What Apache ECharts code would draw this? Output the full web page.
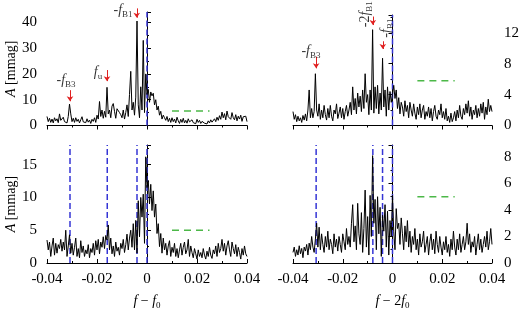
<!DOCTYPE html>
<html>
<head>
<meta charset="utf-8">
<script src="https://cdn.jsdelivr.net/npm/echarts@6/dist/echarts.min.js"></script>
<style>
  html, body { margin: 0; padding: 0; background: #fff; }
  #chart { width: 520px; height: 312px; }
</style>
</head>
<body>
<div id="chart"></div>
<script>
// frequency grid: -0.04 .. 0.04 in steps of 0.0005
const freqStart = -0.04
const freqStep = 0.0005

// amplitude around f0, upper panel (mmag)
const ampF0Top = [
  3.5, 1.5, 2.8, 1.2, 2.5, 1.0, 3.0, 1.8, 2.6, 1.1,
  4.5, 2.0, 1.3, 3.2, 1.5, 2.2, 1.0, 3.5, 8.3, 4.5,
  1.5, 2.8, 1.2, 3.0, 1.6, 2.4, 1.0, 2.2, 3.4, 1.4,
  2.0, 1.1, 2.6, 1.3, 2.1, 0.8, 2.4, 1.6, 3.0, 1.2,
  4.0, 2.5, 9.3, 3.5, 6.0, 2.8, 5.5, 3.2, 14.8, 4.5,
  6.0, 3.0, 7.5, 8.5, 5.5, 2.8, 6.5, 7.0, 5.0, 4.2,
  3.0, 6.0, 2.5, 5.0, 8.0, 3.5, 12.0, 21.0, 6.0, 9.0,
  4.0, 11.0, 40.5, 8.0, 3.0, 15.0, 6.0, 33.0, 5.0, 20.0,
  12.0, 14.0, 9.0, 13.0, 11.5, 12.5, 8.0, 10.0, 6.0, 7.5,
  4.0, 5.5, 2.5, 4.0, 3.0, 2.0, 3.5, 1.5, 2.8, 1.2,
  3.0, 1.5, 2.5, 1.0, 3.2, 1.8, 0.8, 2.4, 1.2, 2.8,
  1.0, 2.0, 0.9, 2.6, 1.4, 0.8, 2.2, 1.1, 1.8, 0.7,
  2.4, 1.2, 2.0, 0.8, 1.6, 2.2, 0.9, 1.5, 0.6, 1.8,
  1.0, 2.2, 1.3, 0.8, 2.6, 1.5, 3.2, 2.0, 3.8, 2.4,
  5.2, 3.0, 4.6, 2.2, 5.6, 3.4, 4.0, 2.4, 5.0, 3.0,
  2.2, 4.2, 1.8, 3.6, 2.5, 4.0, 1.6, 3.4, 2.8, 3.6,
  1.5
]
// amplitude around f0, lower panel (prewhitened)
const ampF0Bottom = [
  3.5, 2.0, 3.2, 1.0, 2.6, 3.8, 1.2, 3.0, 1.5, 2.8,
  2.2, 3.6, 1.8, 3.2, 2.0, 5.0, 1.0, 2.6, 4.3, 1.5,
  3.0, 1.2, 2.4, 3.8, 1.0, 2.2, 0.8, 3.4, 1.6, 2.6,
  1.0, 2.0, 1.4, 2.8, 0.8, 2.2, 1.6, 3.0, 1.2, 3.4,
  2.0, 3.6, 1.4, 3.2, 2.4, 4.0, 2.2, 4.2, 3.5, 5.8,
  2.0, 3.8, 1.4, 2.6, 1.0, 3.2, 1.8, 2.4, 1.2, 3.0,
  2.2, 3.6, 1.6, 2.8, 4.4, 2.0, 3.8, 5.0, 2.4, 6.0,
  2.0, 6.5, 1.5, 9.5, 4.0, 10.0, 7.0, 10.5, 3.0, 16.2,
  11.5, 12.6, 9.0, 12.0, 8.0, 11.0, 7.0, 9.0, 4.5, 6.0,
  2.5, 4.5, 1.5, 3.8, 2.0, 3.0, 1.2, 2.6, 3.4, 1.0,
  2.4, 1.6, 3.0, 1.0, 2.2, 0.8, 2.0, 3.0, 1.2, 2.4,
  3.2, 1.4, 2.0, 3.6, 1.0, 2.6, 1.6, 0.8, 2.2, 1.4,
  0.6, 2.0, 1.0, 1.6, 0.8, 2.2, 1.2, 0.6, 1.8, 1.0,
  2.4, 1.2, 0.7, 2.0, 1.4, 2.6, 1.0, 3.0, 1.6, 2.2,
  3.6, 1.8, 3.0, 1.2, 2.6, 3.4, 2.0, 1.0, 3.2, 2.2,
  1.4, 2.8, 1.0, 2.4, 1.6, 0.6, 2.2, 1.2, 2.6, 1.4,
  1.0
]
// amplitude around 2f0, upper panel
const amp2F0Top = [
  1.8, 0.8, 1.4, 0.5, 1.2, 0.6, 1.0, 0.4, 1.3, 0.7,
  1.5, 0.6, 2.0, 4.6, 1.0, 2.2, 1.0, 1.8, 6.7, 2.0,
  1.2, 2.8, 0.8, 2.0, 1.0, 2.6, 1.4, 0.7, 2.2, 1.0,
  2.6, 1.2, 0.6, 2.0, 1.5, 2.8, 0.9, 1.6, 2.4, 1.0,
  2.2, 0.8, 1.8, 2.6, 1.2, 2.0, 3.0, 1.4, 5.0, 2.0,
  3.5, 1.5, 4.2, 2.4, 3.8, 1.8, 4.6, 2.2, 6.7, 3.0,
  4.0, 1.4, 4.6, 2.0, 12.4, 1.6, 5.0, 2.2, 5.2, 1.5,
  4.2, 2.0, 8.7, 2.4, 4.6, 1.2, 5.0, 2.0, 4.4, 3.0,
  4.0, 5.2, 3.5, 4.6, 2.2, 3.6, 1.5, 3.0, 2.4, 1.2,
  3.2, 1.8, 2.6, 1.0, 3.0, 2.0, 1.2, 2.8, 1.6, 0.8,
  2.4, 1.4, 2.8, 1.0, 2.0, 2.6, 0.8, 1.8, 1.2, 2.4,
  1.0, 2.2, 0.6, 1.8, 2.6, 1.2, 0.8, 2.0, 1.4, 2.8,
  1.0, 1.8, 0.8, 2.2, 0.6, 1.2, 0.4, 1.6, 0.5, 1.0,
  1.8, 0.6, 2.0, 1.0, 2.6, 1.2, 0.8, 2.2, 1.4, 2.8,
  1.6, 3.2, 1.2, 2.4, 0.8, 2.0, 1.4, 2.6, 1.0, 2.2,
  1.2, 2.8, 1.6, 3.0, 0.8, 2.4, 1.4, 3.4, 1.8, 2.6,
  1.8
]
// amplitude around 2f0, lower panel (prewhitened)
const amp2F0Bottom = [
  0.8, 1.2, 0.5, 1.0, 0.6, 1.3, 0.7, 1.1, 0.4, 1.2,
  0.9, 1.4, 0.6, 1.5, 1.0, 2.0, 1.2, 0.8, 1.8, 3.0,
  1.2, 2.7, 1.0, 2.2, 1.4, 0.8, 2.0, 1.2, 2.4, 1.0,
  1.8, 1.4, 0.7, 2.2, 1.2, 1.8, 0.9, 2.0, 1.4, 0.8,
  2.2, 1.6, 1.0, 2.6, 1.4, 2.0, 1.2, 3.0, 4.4, 1.6,
  2.8, 1.0, 4.5, 2.2, 1.4, 3.8, 0.8, 2.6, 5.5, 1.2,
  3.5, 0.6, 5.1, 2.0, 8.1, 3.0, 4.8, 1.0, 5.0, 2.2,
  4.2, 0.5, 3.6, 2.4, 4.4, 1.2, 3.9, 0.6, 3.2, 2.0,
  5.1, 2.4, 1.0, 4.1, 2.6, 3.0, 1.4, 3.4, 2.2, 1.0,
  2.8, 1.6, 3.2, 1.2, 2.4, 0.8, 2.0, 1.4, 2.6, 1.0,
  1.8, 0.6, 2.2, 1.2, 1.6, 2.4, 0.8, 1.4, 2.0, 0.6,
  1.6, 2.2, 1.0, 1.8, 0.7, 2.4, 1.4, 0.8, 2.0, 1.2,
  0.6, 1.6, 1.0, 2.0, 0.8, 1.4, 0.5, 1.8, 1.0, 2.4,
  1.2, 0.6, 1.8, 1.0, 2.2, 0.8, 1.4, 2.0, 1.0, 1.6,
  3.0, 1.4, 2.2, 0.8, 1.6, 1.2, 2.0, 0.6, 1.4, 2.2,
  1.0, 1.8, 0.8, 1.4, 2.0, 1.2, 2.4, 1.0, 1.6, 2.6,
  1.4
]

// blue dashed markers (frequency offsets)
const markersTopLeft = [0]
const markersBottomLeft = [-0.0308, -0.0159, -0.004, 0]
const markersTopRight = [0]
const markersBottomRight = [-0.0307, -0.0079, -0.004, 0]
// green dashed significance levels: [level, from, to]
const levels = [[5.6, 0.01, 0.025], [5.0, 0.01, 0.025], [5.8, 0.01, 0.025], [5.0, 0.01, 0.025]]
// red arrows: [panel, x, yFrom, yTo]
const arrows = [
  [0, -0.0308, 13.7, 9.4],
  [0, -0.016, 21.5, 17.2],
  [0, -0.0041, 45.4, 41.8],
  [2, -0.0307, 8.9, 7.4],
  [2, -0.0079, 14.1, 13.0],
  [2, -0.0039, 10.9, 9.9]
]
// annotation labels: [panel, x, y, text, rotate]
const notes = [
  [0, -0.0324, 17.6, '{n|-}{i|f}{s|B3}', 0],
  [0, -0.0196, 20.7, '{i|f}{s|u}', 0],
  [0, -0.0096, 44.8, '{n|-}{i|f}{s|B1}', 0],
  [2, -0.0328, 9.6, '{n|-}{i|f}{s|B3}', 0],
  [2, -0.0108, 14.4, '{n|-2}{i|f}{s|B1}', 90],
  [2, -0.0024, 12.6, '{n|-}{i|f}{s|B1}', 90]
]

const SERIF = '"Liberation Serif", "DejaVu Serif", serif'
const rich = {
  n: { fontFamily: SERIF, fontSize: 14, lineHeight: 14, verticalAlign: 'top', color: '#000' },
  i: { fontFamily: SERIF, fontSize: 14, lineHeight: 14, verticalAlign: 'top', fontStyle: 'italic', color: '#000' },
  s: { fontFamily: SERIF, fontSize: 9, lineHeight: 10, verticalAlign: 'top', padding: [7, 0, 0, 0], color: '#000' }
}

const freqs = ampF0Top.map((v, i) => +(freqStart + i * freqStep).toFixed(4))
const panelData = [ampF0Top, ampF0Bottom, amp2F0Top, amp2F0Bottom]
const panelMarkers = [markersTopLeft, markersBottomLeft, markersTopRight, markersBottomRight]
const yMax = [44, 18, 14.3, 8.9]
const yInterval = [10, 5, 4, 2]

const grids = [
  { left: 47, top: 12, width: 200, height: 113.5 },
  { left: 47, top: 145, width: 200, height: 118 },
  { left: 293, top: 15, width: 199, height: 110.5 },
  { left: 293, top: 145, width: 199, height: 118 }
]

function xAxis (idx) {
  const bottom = idx === 1 || idx === 3
  return {
    type: 'value',
    gridIndex: idx,
    min: -0.04,
    max: 0.04,
    interval: 0.02,
    axisLine: { onZero: false, lineStyle: { color: '#000', width: 1 } },
    axisTick: { inside: bottom, length: 4, lineStyle: { color: '#000' } },
    minorTick: { show: true, splitNumber: 2, length: 2, lineStyle: { color: '#000' } },
    splitLine: { show: false },
    axisLabel: {
      show: bottom,
      margin: 9,
      fontFamily: SERIF,
      fontSize: 15,
      color: '#000'
    },
    name: bottom ? (idx === 1 ? '{i|f} − {i|f}{s|0}' : '{i|f} − 2{i|f}{s|0}') : '',
    nameLocation: 'middle',
    nameGap: 31,
    nameTextStyle: { fontFamily: SERIF, fontSize: 14, rich: rich }
  }
}

function yAxis (idx) {
  const right = idx >= 2
  return {
    type: 'value',
    gridIndex: idx,
    position: right ? 'right' : 'left',
    min: 0,
    max: yMax[idx],
    interval: yInterval[idx],
    axisLine: { show: true, lineStyle: { color: '#000', width: 1 } },
    axisTick: { inside: true, length: 4, lineStyle: { color: '#000' } },
    minorTick: { show: true, splitNumber: 2, length: 2, lineStyle: { color: '#000' } },
    splitLine: { show: false },
    axisLabel: {
      showMaxLabel: false,
      margin: right ? 12 : 10,
      fontFamily: SERIF,
      fontSize: 15,
      color: '#000'
    },
    name: right ? '' : '{i|A} [mmag]',
    nameLocation: 'middle',
    nameGap: 28,
    nameTextStyle: { fontFamily: SERIF, fontSize: 14, rich: rich }
  }
}

const series = []
panelData.forEach((amps, idx) => {
  // blue dashed lines
  panelMarkers[idx].forEach(x => {
    series.push({
      type: 'line',
      xAxisIndex: idx,
      yAxisIndex: idx,
      data: [[x, 0], [x, yMax[idx]]],
      symbol: 'none',
      silent: true,
      z: 1,
      lineStyle: { color: '#3535d5', width: 1.5, type: [6, 3] }
    })
  })
  // green dashed level
  const lv = levels[idx]
  series.push({
    type: 'line',
    xAxisIndex: idx,
    yAxisIndex: idx,
    data: [[lv[1], lv[0]], [lv[2], lv[0]]],
    symbol: 'none',
    silent: true,
    z: 1,
    lineStyle: { color: '#4cb848', width: 1.5, type: [7, 5] }
  })
  // periodogram
  series.push({
    type: 'line',
    xAxisIndex: idx,
    yAxisIndex: idx,
    data: amps.map((a, i) => [freqs[i], a]),
    symbol: 'none',
    z: 2,
    lineStyle: { color: '#000', width: 1 }
  })
})

;[0, 2].forEach(p => {
  series.push({
    type: 'lines',
    coordinateSystem: 'cartesian2d',
    xAxisIndex: p,
    yAxisIndex: p,
    clip: false,
    symbol: ['none', 'arrow'],
    symbolSize: 5,
    lineStyle: { color: '#e02020', width: 1, opacity: 1 },
    data: arrows.filter(a => a[0] === p).map(a => ({ coords: [[a[1], a[2]], [a[1], a[3]]] }))
  })
  series.push({
    type: 'scatter',
    xAxisIndex: p,
    yAxisIndex: p,
    clip: false,
    symbolSize: 0,
    silent: true,
    data: notes.filter(n => n[0] === p).map(n => ({
      value: [n[1], n[2]],
      label: {
        show: true,
        position: 'inside',
        rotate: n[4],
        formatter: n[3],
        rich: rich
      }
    }))
  })
})

const chart = echarts.init(document.getElementById('chart'), null, { renderer: 'canvas' })
chart.setOption({
  animation: false,
  backgroundColor: '#fff',
  grid: grids.map(g => Object.assign({ outerBoundsMode: 'none', containLabel: false }, g)),
  xAxis: [0, 1, 2, 3].map(xAxis),
  yAxis: [0, 1, 2, 3].map(yAxis),
  series: series
})
</script>
</body>
</html>
